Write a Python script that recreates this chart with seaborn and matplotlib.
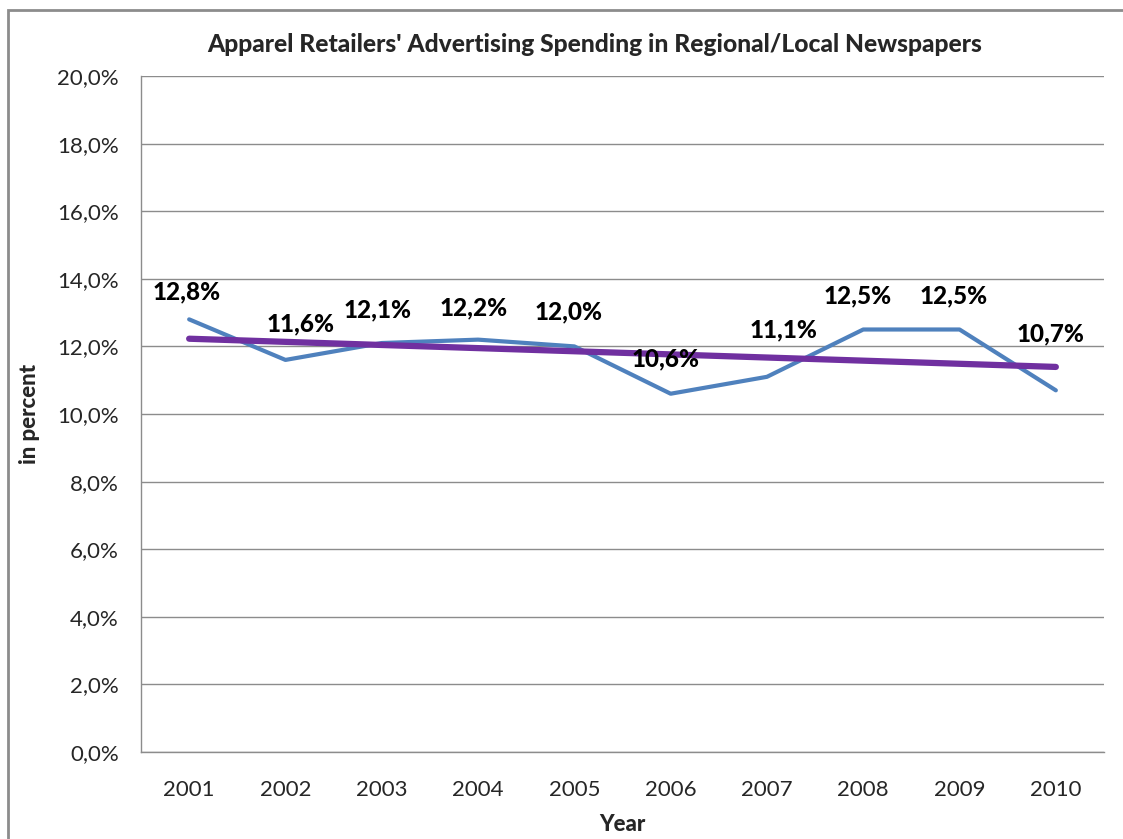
import numpy as np
import pandas as pd
import seaborn as sns
import matplotlib.pyplot as plt
from matplotlib.patches import Rectangle

# Datos
years = [2001, 2002, 2003, 2004, 2005, 2006, 2007, 2008, 2009, 2010]
share = [12.8, 11.6, 12.1, 12.2, 12.0, 10.6, 11.1, 12.5, 12.5, 10.7]
yticks = [0, 2, 4, 6, 8, 10, 12, 14, 16, 18, 20]

datos = pd.DataFrame({'year': years, 'share': share})

sns.set_style('white')
plt.rcParams['font.family'] = ['Lato', 'DejaVu Sans']

fig = plt.figure(figsize=(11.23, 8.39), dpi=100)
ax = fig.add_axes([141 / 1123, 1 - 752 / 839, (1104 - 141) / 1123, (752 - 76) / 839])

# marco exterior del grafico
fig.patches.append(Rectangle((8 / 1123, -0.05), 1.2, 1 - 10 / 839 + 0.05,
                             transform=fig.transFigure, fill=False,
                             edgecolor='#8c8c8c', linewidth=2))

sns.lineplot(data=datos, x='year', y='share', color='#4F81BD', linewidth=3, ax=ax)
# linea de tendencia lineal
sns.regplot(data=datos, x='year', y='share', scatter=False, ci=None,
            line_kws={'color': '#7030A0', 'linewidth': 4.5}, ax=ax)

# etiquetas de datos (desplazamiento en puntos)
dx = [-2, 11, -3, -3, -4, -4, 12, -4, -4, -4]
dy = [20, 26, 24, 23, 25, 25, 34, 24, 24, 41]
for x, v, ox, oy in zip(years, share, dx, dy):
    ax.annotate(f'{v:.1f}%'.replace('.', ','), (x, v), xytext=(ox, oy),
                textcoords='offset points', ha='center', va='center',
                fontsize=17.5, fontweight=900, color='black')

ax.set_xlim(2000.5, 2010.5)
ax.set_ylim(0, 20)
ax.set_xticks(years)
ax.set_xticklabels([str(y) for y in years], fontsize=16)
ax.set_yticks(yticks)
ax.set_yticklabels([f'{t:.1f}%'.replace('.', ',') for t in yticks], fontsize=16)
ax.tick_params(axis='x', length=0, pad=20)
ax.tick_params(axis='y', length=0, pad=16)
ax.yaxis.grid(True, color='#8c8c8c', linewidth=1)
ax.set_axisbelow(True)
for s in ['top', 'right']:
    ax.spines[s].set_visible(False)
for s in ['left', 'bottom']:
    ax.spines[s].set_color('#8c8c8c')
    ax.spines[s].set_linewidth(1)

ax.set_xlabel('Year', fontsize=16, fontweight=900, labelpad=10)
ax.set_ylabel('in percent', fontsize=16, fontweight=900, labelpad=12)
fig.text(595 / 1123, 1 - 44 / 839,
         "Apparel Retailers' Advertising Spending in Regional/Local Newspapers",
         fontsize=17.7, fontweight=900, ha='center', va='center')

fig.savefig('out.png', dpi=100)
